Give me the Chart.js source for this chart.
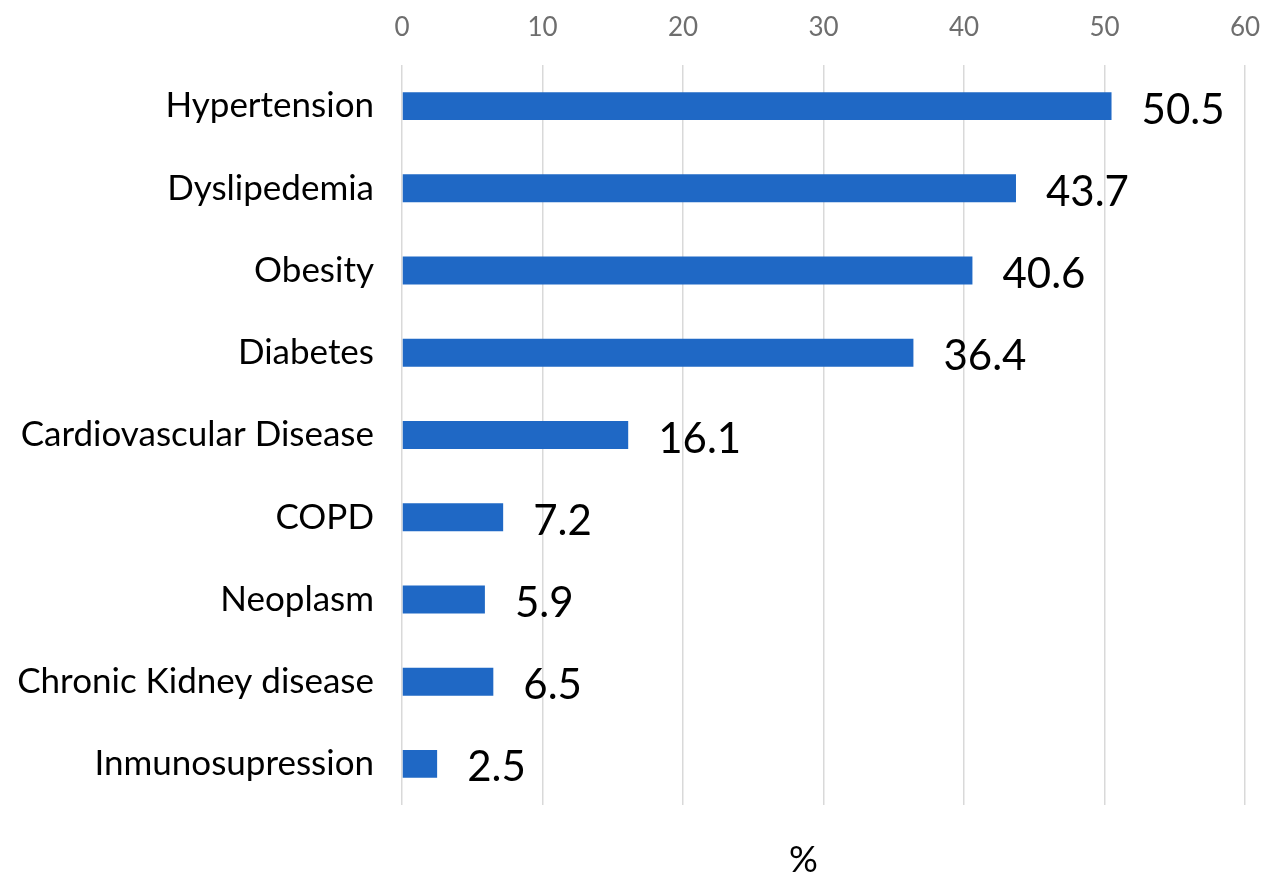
<!DOCTYPE html>
<html>
<head>
<meta charset="utf-8">
<script src="https://cdn.jsdelivr.net/npm/chart.js@4/dist/chart.umd.min.js"></script>
<style>
  html, body { margin: 0; padding: 0; background: #fff; }
  #wrap { width: 1269px; height: 877px; position: relative; }
</style>
</head>
<body>
<div id="wrap"><canvas id="chart"></canvas></div>
<script>
// Data
const categories = [
    "Hypertension",
    "Dyslipedemia",
    "Obesity",
    "Diabetes",
    "Cardiovascular Disease",
    "COPD",
    "Neoplasm",
    "Chronic Kidney disease",
    "Inmunosupression"
];
const percentValues = [50.5, 43.7, 40.6, 36.4, 16.1, 7.2, 5.9, 6.5, 2.5];
const xTicks = [0, 10, 20, 30, 40, 50, 60];

const FONT = "Lato, 'Liberation Sans', Arial, sans-serif";

// Draws the value next to each bar and the "%" title under the plot
const valueLabels = {
    id: "valueLabels",
    afterDatasetsDraw(chart) {
        const ctx = chart.ctx;
        const meta = chart.getDatasetMeta(0);
        ctx.save();
        ctx.font = "42px " + FONT;
        ctx.fillStyle = "#000";
        ctx.textAlign = "left";
        ctx.textBaseline = "middle";
        meta.data.forEach((bar, i) => {
            ctx.fillText(percentValues[i].toFixed(1), bar.x + 30, bar.y + 4);
        });
        // axis title
        ctx.font = "36px " + FONT;
        ctx.textAlign = "center";
        const area = chart.chartArea;
        ctx.fillText("%", (area.left + area.right) / 2 - 20, 860);
        ctx.restore();
    }
};

const ctx = document.getElementById("chart").getContext("2d");
new Chart(ctx, {
    type: "bar",
    data: {
        labels: categories,
        datasets: [{
            data: percentValues,
            backgroundColor: "#1f68c5",
            borderWidth: 0,
            categoryPercentage: 1,
            barPercentage: 0.34
        }]
    },
    options: {
        indexAxis: "y",
        responsive: true,
        maintainAspectRatio: false,
        animation: false,
        layout: {
            padding: { top: 0, right: 24, bottom: 72, left: 0 }
        },
        plugins: {
            legend: { display: false },
            tooltip: { enabled: false }
        },
        scales: {
            x: {
                position: "top",
                min: 0,
                max: 60,
                afterBuildTicks(scale) {
                    scale.ticks = xTicks.map(v => ({ value: v }));
                },
                afterFit(scale) {
                    scale.height = 65;
                    scale.paddingLeft = 0;
                    scale.paddingRight = 0;
                },
                ticks: {
                    color: "#6e6e6e",
                    font: { family: FONT, size: 26 },
                    padding: 22
                },
                grid: {
                    color: "#d9d9d9",
                    lineWidth: 1.5,
                    drawTicks: false
                },
                border: { display: false }
            },
            y: {
                afterFit(scale) {
                    scale.width = 402;
                    scale.paddingTop = 0;
                    scale.paddingBottom = 0;
                },
                ticks: {
                    color: "#000",
                    font: { family: FONT, size: 35 },
                    padding: 20
                },
                grid: { display: false },
                border: { display: false }
            }
        }
    },
    plugins: [valueLabels]
});
</script>
</body>
</html>
